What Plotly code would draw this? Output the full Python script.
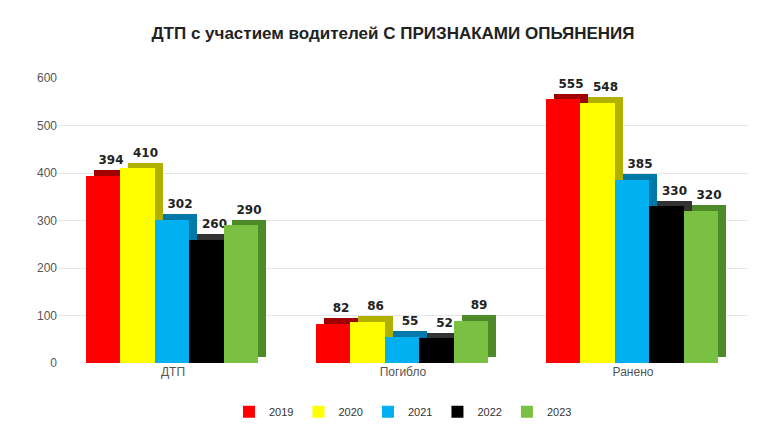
import plotly.graph_objects as go

categories = ["ДТП", "Погибло", "Ранено"]
years = ["2019", "2020", "2021", "2022", "2023"]
values = {
    "2019": [394, 82, 555],
    "2020": [410, 86, 548],
    "2021": [302, 55, 385],
    "2022": [260, 52, 330],
    "2023": [290, 89, 320],
}
colors = ["#ff0000", "#ffff00", "#00b0f0", "#000000", "#7ac143"]
dark = ["#a00000", "#b0b000", "#0078a8", "#333333", "#4f8a28"]

fig = go.Figure()
w = 0.15
x = list(range(len(categories)))
for i, y in enumerate(years):
    off = -0.38 + i * w
    fig.add_trace(go.Bar(x=x, y=values[y], base=12, offset=off + 0.035, width=w,
                         marker=dict(color=dark[i], line=dict(width=0)),
                         text=[f"<b>{v}</b>" for v in values[y]], textposition="outside",
                         textfont=dict(size=12, color="#222", family="DejaVu Sans"),
                         cliponaxis=False, showlegend=False, hoverinfo="skip"))
for i, y in enumerate(years):
    off = -0.38 + i * w
    fig.add_trace(go.Bar(x=x, y=values[y], offset=off, width=w, name=y,
                         marker=dict(color=colors[i], line=dict(width=0))))

fig.update_layout(
    width=770, height=430, barmode="overlay",
    paper_bgcolor="white", plot_bgcolor="white",
    margin=dict(l=50, r=30, t=70, b=70),
    title=dict(text="<b>ДТП с участием водителей С ПРИЗНАКАМИ ОПЬЯНЕНИЯ</b>",
               x=0.5, y=0.955, font=dict(size=17, color="#222", family="Liberation Sans")),
    font=dict(family="Liberation Sans", color="#555"),
    legend=dict(orientation="h", x=0.5, xanchor="center", y=-0.12, yanchor="top",
                font=dict(size=11, color="#333"), itemwidth=30, traceorder="normal"),
    bargap=0,
)
fig.update_xaxes(tickvals=x, ticktext=categories, range=[-0.5, 2.5],
                 showline=False, tickfont=dict(size=12, color="#555"))
fig.update_yaxes(range=[0, 600], dtick=100, gridcolor="#e6e6e6",
                 tickfont=dict(size=12, color="#555"), zeroline=False)
fig.write_html("out.html")
